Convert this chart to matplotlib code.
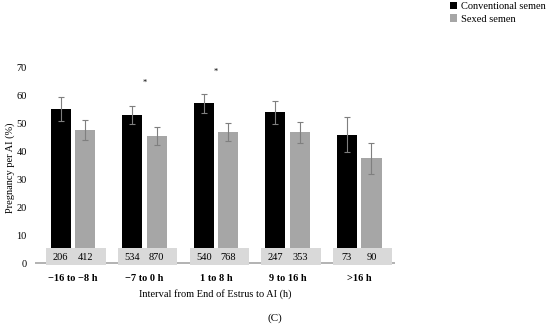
import matplotlib
matplotlib.use("Agg")
import matplotlib.pyplot as plt
import numpy as np
from matplotlib.patches import Rectangle

plt.rcParams["font.family"] = ["Liberation Serif", "DejaVu Serif"]

groups = ["\u221216 to \u22128 h", "\u22127 to 0 h", "1 to 8 h", "9 to 16 h", ">16 h"]
conv = [54.9, 52.8, 57.0, 53.8, 45.9]
conv_err = [4.3, 3.3, 3.5, 4.1, 6.3]
sexed = [47.4, 45.5, 46.9, 46.7, 37.4]
sexed_err = [3.6, 3.2, 3.2, 3.7, 5.6]
n_conv = [206, 534, 540, 247, 73]
n_sexed = [412, 870, 768, 353, 90]
star_groups = [1, 2]
star_y = [64.5, 68.1]

fig = plt.figure(figsize=(5.5, 3.24), dpi=100)
ax = fig.add_axes([0.0636, 0.1701, 0.6545, 0.6231])

x = np.arange(len(groups))
off, w = 0.172, 0.28
ax.bar(x - off, conv, w, color="black", label="Conventional semen", zorder=2)
ax.bar(x + off, sexed, w, color="#a6a6a6", label="Sexed semen", zorder=2)
ekw = dict(fmt="none", ecolor="#7f7f7f", elinewidth=0.8, capsize=2, capthick=0.8, zorder=3)
ax.errorbar(x - off, conv, yerr=conv_err, **ekw)
ax.errorbar(x + off, sexed, yerr=sexed_err, **ekw)

ax.axhline(0, color="#a6a6a6", lw=1.2, zorder=1)
# sample-size boxes under each group
for i in x:
    ax.add_patch(Rectangle((i - 0.37, -0.7), 0.83, 6.1, facecolor="#d9d9d9",
                           edgecolor="none", zorder=4))
    ax.text(i - off, 2.0, str(n_conv[i]), ha="center", va="center", fontsize=7.5, zorder=5)
    ax.text(i + off, 2.0, str(n_sexed[i]), ha="center", va="center", fontsize=7.5, zorder=5)

for g, yy in zip(star_groups, star_y):
    ax.text(g, yy, "*", ha="center", va="center", fontsize=6)

ax.set_xlim(-0.53, 4.5)
ax.set_ylim(-2, 70)
ax.set_yticks(range(0, 71, 10))
ax.set_xticks(x)
ax.set_xticklabels(groups, fontweight="bold")
ax.tick_params(axis="both", length=0, labelsize=7.5)
ax.tick_params(axis="y", pad=6)
ax.tick_params(axis="x", pad=4)
for s in ax.spines.values():
    s.set_visible(False)
ax.set_ylabel("Pregnancy per AI (%)", fontsize=7.5, labelpad=1)
ax.set_xlabel("Interval from End of Estrus to AI (h)", fontsize=7.5, labelpad=4)

fig.legend(loc="upper left", bbox_to_anchor=(450 / 550, 1 - 2 / 324), frameon=False,
           fontsize=7.5, handlelength=0.7, handleheight=0.7, handletextpad=0.4,
           labelspacing=0.3, borderpad=0, borderaxespad=0)
fig.text(0.5, 1 - 318 / 324, "(C)", ha="center", va="center", fontsize=8)

fig.savefig("out.png", dpi=100)
